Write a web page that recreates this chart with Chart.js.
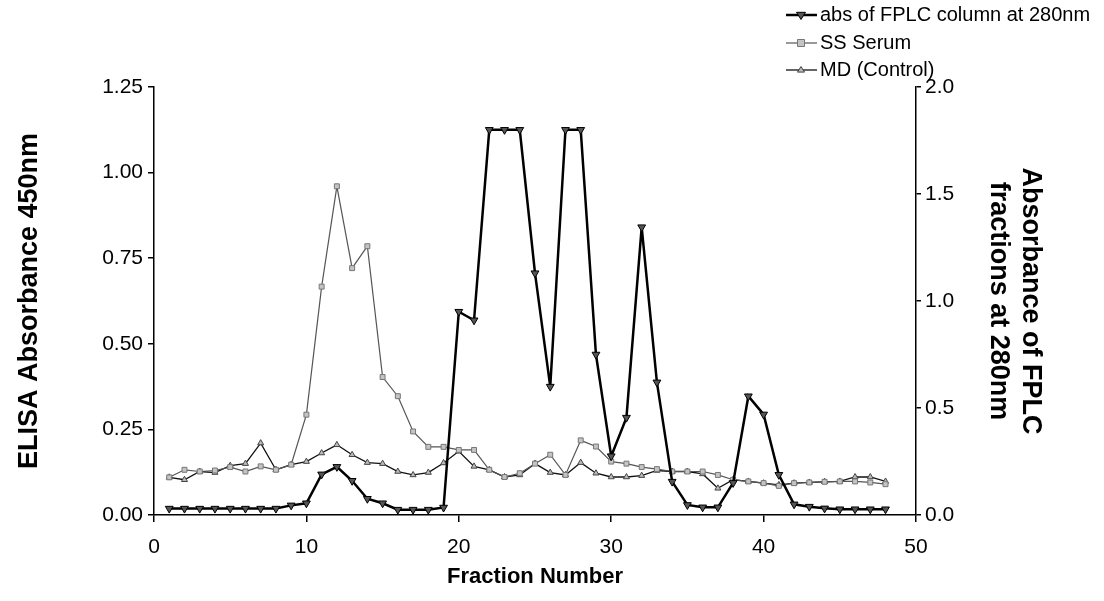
<!DOCTYPE html>
<html>
<head>
<meta charset="utf-8">
<script src="https://cdn.jsdelivr.net/npm/chart.js@4.4.1/dist/chart.umd.min.js"></script>
<style>
  body { margin: 0; background: #fff; }
  #wrap { width: 1104px; height: 601px; }
</style>
</head>
<body>
<div id="wrap"><canvas id="myChart"></canvas></div>
<script>
// fraction numbers 1..48
const fractions = [
  1, 2, 3, 4, 5, 6, 7, 8, 9, 10, 11, 12, 13, 14, 15, 16,
  17, 18, 19, 20, 21, 22, 23, 24, 25, 26, 27, 28, 29, 30, 31, 32,
  33, 34, 35, 36, 37, 38, 39, 40, 41, 42, 43, 44, 45, 46, 47, 48,
];

// absorbance of FPLC column at 280nm (right axis)
const absFPLC = [
  0.03, 0.03, 0.03, 0.03, 0.03, 0.03, 0.03, 0.03, 0.045, 0.055, 0.19, 0.225, 0.16, 0.076, 0.055, 0.025,
  0.025, 0.025, 0.035, 0.95, 0.91, 1.80, 1.80, 1.80, 1.13, 0.60, 1.80, 1.80, 0.75, 0.275, 0.455, 1.345,
  0.62, 0.156, 0.047, 0.036, 0.036, 0.15, 0.555, 0.47, 0.188, 0.05, 0.039, 0.031, 0.027, 0.027, 0.027, 0.027,
];

// ELISA absorbance 450nm (left axis)
const ssSerum = [
  0.11, 0.132, 0.127, 0.13, 0.14, 0.127, 0.142, 0.132, 0.147, 0.293, 0.667, 0.96, 0.721, 0.785, 0.403, 0.347,
  0.244, 0.199, 0.199, 0.19, 0.19, 0.132, 0.111, 0.122, 0.15, 0.176, 0.117, 0.218, 0.2, 0.156, 0.15, 0.14,
  0.134, 0.127, 0.127, 0.127, 0.117, 0.103, 0.098, 0.093, 0.085, 0.093, 0.095, 0.097, 0.098, 0.098, 0.095, 0.09,
];

const mdControl = [
  0.11, 0.103, 0.127, 0.124, 0.144, 0.15, 0.21, 0.132, 0.147, 0.156, 0.181, 0.205, 0.176, 0.153, 0.15, 0.127,
  0.117, 0.124, 0.152, 0.186, 0.142, 0.132, 0.111, 0.117, 0.15, 0.124, 0.117, 0.153, 0.122, 0.111, 0.111, 0.115,
  0.13, 0.127, 0.127, 0.12, 0.078, 0.103, 0.098, 0.093, 0.088, 0.093, 0.095, 0.097, 0.098, 0.111, 0.111, 0.098,
];

const toPoints = (values) => fractions.map((f, i) => ({ x: f, y: values[i] }));

const FONT = "'Liberation Sans', Arial, sans-serif";

// legend drawn in the top right corner, outside the plot area
const cornerLegend = {
  id: "cornerLegend",
  afterDraw(chart) {
    const ctx = chart.ctx;
    const rows = [15, 43, 70];
    ctx.save();
    chart.data.datasets.forEach((ds, i) => {
      const y = rows[i];
      ctx.strokeStyle = ds.borderColor;
      ctx.lineWidth = ds.borderWidth;
      ctx.beginPath();
      ctx.moveTo(786, y);
      ctx.lineTo(817, y);
      ctx.stroke();
      // marker
      const r = ds.pointRadius;
      ctx.fillStyle = ds.pointBackgroundColor;
      ctx.strokeStyle = ds.pointBorderColor;
      ctx.lineWidth = 1;
      ctx.beginPath();
      if (ds.pointStyle === "rect") {
        ctx.rect(801 - r, y - r, 2 * r, 2 * r);
      } else {
        const dir = ds.pointRotation === 180 ? 1 : -1;
        ctx.moveTo(801, y + dir * r);
        ctx.lineTo(801 - r, y - dir * r * 0.6);
        ctx.lineTo(801 + r, y - dir * r * 0.6);
        ctx.closePath();
      }
      ctx.fill();
      ctx.stroke();
      ctx.fillStyle = "#000";
      ctx.font = "20px " + FONT;
      ctx.textBaseline = "middle";
      ctx.textAlign = "left";
      ctx.fillText(ds.label, 820, y);
    });
    ctx.restore();
  },
};

const ctx = document.getElementById("myChart").getContext("2d");
const chart = new Chart(ctx, {
  type: "line",
  data: {
    datasets: [
      {
        label: "abs of FPLC column at 280nm",
        data: toPoints(absFPLC),
        yAxisID: "y2",
        borderColor: "#000",
        borderWidth: 2.5,
        pointStyle: "triangle",
        pointRotation: 180,
        pointRadius: 4.5,
        pointBackgroundColor: "#555",
        pointBorderColor: "#000",
        pointBorderWidth: 1,
      },
      {
        label: "SS Serum",
        data: toPoints(ssSerum),
        yAxisID: "y",
        borderColor: "#555",
        borderWidth: 1.2,
        pointStyle: "rect",
        pointRadius: 3.5,
        pointBackgroundColor: "#c4c4c4",
        pointBorderColor: "#777",
        pointBorderWidth: 1,
      },
      {
        label: "MD (Control)",
        data: toPoints(mdControl),
        yAxisID: "y",
        borderColor: "#111",
        borderWidth: 1.3,
        pointStyle: "triangle",
        pointRotation: 0,
        pointRadius: 3.5,
        pointBackgroundColor: "#bbb",
        pointBorderColor: "#444",
        pointBorderWidth: 1,
      },
    ],
  },
  options: {
    responsive: true,
    maintainAspectRatio: false,
    animation: false,
    events: [],
    layout: { padding: { top: 87, left: 0, right: 0, bottom: 0 } },
    plugins: {
      legend: { display: false },
      tooltip: { enabled: false },
    },
    scales: {
      x: {
        type: "linear",
        min: 0,
        max: 50,
        afterFit: (scale) => { scale.height = 86; },
        ticks: { stepSize: 10, color: "#000", font: { family: FONT, size: 21 }, padding: 13 },
        grid: { drawOnChartArea: false, tickLength: 7, color: "#000", lineWidth: 1.5 },
        border: { color: "#000", width: 1.5 },
        title: {
          display: true,
          text: "Fraction Number",
          color: "#000",
          font: { family: FONT, size: 22, weight: "bold" },
          padding: { top: 0, bottom: 11 },
        },
      },
      y: {
        position: "left",
        min: 0,
        max: 1.25,
        afterFit: (scale) => { scale.width = 154; },
        ticks: {
          stepSize: 0.25,
          color: "#000",
          font: { family: FONT, size: 21 },
          padding: 5,
          callback: (v) => v.toFixed(2),
        },
        grid: { drawOnChartArea: false, tickLength: 6, color: "#000", lineWidth: 1.5 },
        border: { color: "#000", width: 1.5 },
        title: {
          display: true,
          text: "ELISA Absorbance 450nm",
          color: "#000",
          font: { family: FONT, size: 27, weight: "bold", lineHeight: 1.2 },
          padding: { top: 13, bottom: 0 },
        },
      },
      y2: {
        position: "right",
        min: 0,
        max: 2,
        afterFit: (scale) => { scale.width = 188; },
        ticks: {
          stepSize: 0.5,
          color: "#000",
          font: { family: FONT, size: 21 },
          padding: 4,
          callback: (v) => v.toFixed(1),
        },
        grid: { drawOnChartArea: false, tickLength: 5, color: "#000", lineWidth: 1.5 },
        border: { color: "#000", width: 1.5 },
        title: {
          display: true,
          text: ["Absorbance of FPLC", "fractions at 280nm"],
          color: "#000",
          font: { family: FONT, size: 27, weight: "bold", lineHeight: 1.2 },
          padding: { top: 57, bottom: 0 },
        },
      },
    },
  },
  plugins: [cornerLegend],
});
</script>
</body>
</html>
